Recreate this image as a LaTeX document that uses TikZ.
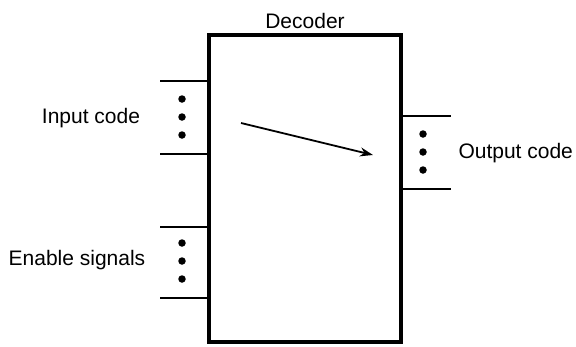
\documentclass[tikz,border=0pt]{standalone}
\usepackage{fontspec}
\setmainfont{Liberation Sans}
\usetikzlibrary{arrows.meta,positioning}

\begin{document}
\begin{tikzpicture}[x=1pt,y=-1pt,every node/.style={font=\fontsize{21}{25}\selectfont},blk/.style={draw,line width=3.6pt,minimum width=192pt,minimum height=307pt,inner sep=0pt},wire/.style={line width=1.6pt},dot/.style={circle,fill,inner sep=0pt,minimum size=7.5pt},arr/.style={-{Stealth[length=13pt,width=9pt]},line width=1.8pt}]
\useasboundingbox (0,0) rectangle (576,346);
\node[blk] (dec) at (305,188.5) {};
\node[above=1pt of dec.north] (title) {Decoder};
% inputs on the left
\coordinate (ina) at (160,81);
\coordinate (inb) at (160,154);
\coordinate (ena) at (160,227);
\coordinate (enb) at (160,298);
\draw[wire] (ina) -- (ina -| dec.west);
\draw[wire] (inb) -- (inb -| dec.west);
\draw[wire] (ena) -- (ena -| dec.west);
\draw[wire] (enb) -- (enb -| dec.west);
\foreach \y in {99,117,135,243,261,279} \node[dot] at (182,\y) {};
\node (inlbl) at (91,118) {Input code};
\node (enlbl) at (77,260) {Enable signals};
% outputs on the right
\coordinate (outa) at (451,116);
\coordinate (outb) at (451,189);
\draw[wire] (outa -| dec.east) -- (outa);
\draw[wire] (outb -| dec.east) -- (outb);
\foreach \y in {134,152,170} \node[dot] at (423,\y) {};
\node[anchor=west] (outlbl) at (455,153) {Output code};
% mapping arrow
\coordinate (src) at (241,123);
\coordinate (dst) at (373,155);
\draw[arr] (src) -- (dst);
\end{tikzpicture}
\end{document}
